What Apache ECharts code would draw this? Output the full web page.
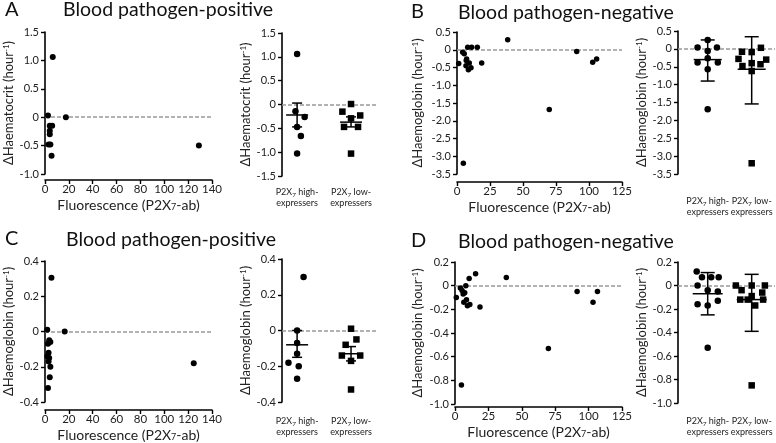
<!DOCTYPE html>
<html>
<head>
<meta charset="utf-8">
<script src="https://cdn.jsdelivr.net/npm/echarts@6/dist/echarts.min.js"></script>
<style>
  html, body { margin: 0; padding: 0; background: #fff; }
  #chart { width: 776px; height: 443px; }
</style>
</head>
<body>
<div id="chart"></div>
<script>
// ---- data ----
// A: haematocrit, blood pathogen-positive (scatter vs fluorescence)
var aFluor = [6.5, 2.5, 17.5, 4, 6, 4, 4, 3, 4.5, 5.5, 3, 4.5, 129];
var aHct = [1.06, 0.03, 0, -0.15, -0.15, -0.24, -0.3, -0.48, -0.48, -0.68, -1.03, -1.03, -0.5];
// A: dot plot (position inside the group, value)
var aHighPos = [1, 0.97, 1.14, 1, 1.07, 1];
var aHighVal = [1.06, -0.14, -0.26, -0.47, -0.66, -1.03];
var aLowPos = [2, 1.84, 2.17, 2, 1.87, 2.13, 2];
var aLowVal = [0.01, -0.15, -0.23, -0.29, -0.47, -0.47, -1.03];
var aHighStat = [-0.22, 0.03, -0.47]; // mean, upper, lower
var aLowStat = [-0.37, -0.26, -0.47];

// B: haemoglobin, blood pathogen-negative
var bFluor = [1.3, 4.3, 5.5, 7.3, 7.0, 6.8, 9.3, 8.6, 10.6, 8.1, 11.1, 15.4, 18.7, 38.4, 69.9, 4.8, 90.7, 102.8, 105.8];
var bHb = [-0.39, -0.07, -0.11, -0.26, -0.3, -0.45, -0.37, -0.56, -0.51, 0.07, 0.07, 0.07, -0.37, 0.28, -1.68, -3.2, -0.05, -0.35, -0.26];
var bHighPos = [0.77, 1.21, 1, 1, 1, 0.77, 1.23, 1, 1];
var bHighVal = [0.04, 0.04, 0.25, -0.06, -0.26, -0.38, -0.38, -0.57, -1.69];
var bLowPos = [1.70, 1.78, 2, 2.21, 1.79, 2, 2.2, 2.33, 2, 2];
var bLowVal = [-0.28, -0.08, -0.09, 0.03, -0.48, -0.40, -0.43, -0.30, -0.62, -3.2];
var bHighStat = [-0.30, 0.25, -0.90];
var bLowStat = [-0.57, 0.34, -1.54];

// C: haemoglobin, blood pathogen-positive
var cFluor = [5.4, 1.9, 16.5, 3.5, 4.5, 2.5, 3, 2, 3.5, 3, 4.5, 4, 2.5, 124.7];
var cHb = [0.305, 0.01, 0, -0.05, -0.06, -0.07, -0.12, -0.14, -0.15, -0.17, -0.2, -0.26, -0.32, -0.18];
var cHighPos = [1.12, 1, 1, 1, 0.84, 1.03, 1];
var cHighVal = [0.30, 0.0, -0.07, -0.13, -0.18, -0.2, -0.27];
var cLowPos = [2, 1.9, 2.1, 1.83, 2.17, 2, 2];
var cLowVal = [0.01, -0.08, -0.05, -0.14, -0.14, -0.17, -0.33];
var cHighStat = [-0.08, 0.0, -0.15];
var cLowStat = [-0.13, -0.09, -0.17];

// D: haemoglobin, blood pathogen-negative
var dFluor = [1.0, 4.0, 5.3, 6.1, 8.1, 7.3, 6.6, 8.6, 9.3, 11.1, 10.6, 15.4, 18.7, 38.4, 69.9, 4.8, 91.4, 106.6, 103.3];
var dHb = [-0.10, -0.02, -0.04, -0.07, 0.0, -0.06, -0.14, -0.12, -0.17, -0.16, 0.06, 0.10, -0.18, 0.07, -0.53, -0.84, -0.05, -0.05, -0.14];
var dHighPos = [0.75, 0.87, 1.08, 1.25, 0.77, 1, 1.23, 0.77, 1, 1.23, 1];
var dHighVal = [0.12, 0.07, 0.07, 0.07, 0.0, -0.04, -0.05, -0.16, -0.17, -0.13, -0.53];
var dLowPos = [1.64, 1.77, 2, 2.3, 1.74, 1.91, 2, 2.24, 2.26, 2.08, 2];
var dLowVal = [0.0, -0.04, 0.0, 0.0, -0.12, -0.12, -0.09, -0.06, -0.12, -0.17, -0.85];
var dHighStat = [-0.07, 0.11, -0.25];
var dLowStat = [-0.12, 0.095, -0.39];

// axis ticks
var fluorTicksAC = [0, 20, 40, 60, 80, 100, 120, 140];
var fluorTicksBD = [0, 25, 50, 75, 100, 125];
var hctTicksA = [-1.0, -0.5, 0, 0.5, 1.0, 1.5];
var hctTicksARight = [-1.5, -1.0, -0.5, 0, 0.5, 1.0, 1.5];
var hbTicksB = [-3.5, -3.0, -2.5, -2.0, -1.5, -1.0, -0.5, 0, 0.5];
var hbTicksC = [-0.4, -0.2, 0, 0.2, 0.4];
var hbTicksD = [-1.0, -0.8, -0.6, -0.4, -0.2, 0, 0.2];
var groupPos = [1, 2];
var groupNames = ['high-', 'low-'];

var titles = ['Blood pathogen-positive', 'Blood pathogen-negative'];
var hctName = '{a|\u0394Haematocrit (hour}{s|-1}{a|)}';
var hbName = '{a|\u0394Haemoglobin (hour}{s|-1}{a|)}';
var fluorName = '{a|Fluorescence (P2X}{s|7}{a|-ab)}';

var FONT = 'Lato, "Open Sans", sans-serif';

function zip(xs, ys) {
  return xs.map(function (x, i) { return [x, ys[i]]; });
}

function tickFmt(v) {
  return Math.abs(v) < 1e-9 ? '0' : v.toFixed(1);
}

// y axis, Prism-like style
function makeY(g, ticks, name, gap) {
  return {
    gridIndex: g, type: 'value',
    min: ticks[0], max: ticks[ticks.length - 1], interval: ticks[1] - ticks[0],
    axisLine: { show: true, onZero: false, lineStyle: { color: '#000', width: 1.6 } },
    axisTick: { show: true, length: 4, lineStyle: { color: '#000', width: 1.4 } },
    splitLine: { show: false },
    axisLabel: { formatter: tickFmt, color: '#222', fontSize: 11, margin: 6, fontFamily: FONT },
    name: name, nameLocation: 'middle', nameGap: gap,
    nameTextStyle: {
      rich: {
        a: { fontSize: 13, color: '#222', fontFamily: FONT },
        s: { fontSize: 8, color: '#222', fontFamily: FONT, verticalAlign: 'top', lineHeight: 14 }
      }
    }
  };
}

// x axis of the scatter panels
function makeFluorX(g, ticks, offset) {
  return {
    gridIndex: g, type: 'value',
    min: ticks[0], max: ticks[ticks.length - 1], interval: ticks[1] - ticks[0],
    offset: offset,
    axisLine: { show: true, onZero: false, lineStyle: { color: '#000', width: 1.6 } },
    axisTick: { show: true, length: 4, lineStyle: { color: '#000', width: 1.4 } },
    splitLine: { show: false },
    axisLabel: { color: '#222', fontSize: 11.5, margin: 3, fontFamily: FONT },
    name: fluorName, nameLocation: 'middle', nameGap: 18,
    nameTextStyle: {
      rich: {
        a: { fontSize: 14, color: '#222', fontFamily: FONT },
        s: { fontSize: 9, color: '#222', fontFamily: FONT, verticalAlign: 'bottom', lineHeight: 12 }
      }
    }
  };
}

// hidden x axis of the dot plots, only group labels shown
function makeGroupX(g, min, max, margin) {
  return {
    gridIndex: g, type: 'value', min: min, max: max,
    axisLine: { show: false, onZero: false },
    axisTick: { show: false },
    splitLine: { show: false },
    axisLabel: {
      customValues: groupPos, margin: margin, hideOverlap: false,
      formatter: function (v) {
        var i = groupPos.indexOf(v);
        return '{a|P2X}{s|7}{a| ' + groupNames[i] + '}\n{a|expressers}';
      },
      rich: {
        a: { fontSize: 9, color: '#222', fontFamily: FONT, lineHeight: 11 },
        s: { fontSize: 6.5, color: '#222', fontFamily: FONT, lineHeight: 8, verticalAlign: 'bottom' }
      }
    }
  };
}

// dashed line at y = 0, kept under the points
function zeroSeries(g) {
  return {
    type: 'scatter', xAxisIndex: g, yAxisIndex: g, data: [], z: 1,
    markLine: {
      silent: true, symbol: 'none', z: 1,
      label: { show: false },
      lineStyle: { color: '#999', type: [4, 2], width: 1.5 },
      data: [{ yAxis: 0 }]
    }
  };
}

function scatter(g, data, symbol, size) {
  return {
    type: 'scatter', xAxisIndex: g, yAxisIndex: g,
    data: data, symbol: symbol, symbolSize: size,
    itemStyle: { color: '#000', opacity: 1 }, z: 3
  };
}

// mean line + error bar
function errorBars(g, stats, half, cap) {
  var data = stats.map(function (st, i) { return [groupPos[i], st[0], st[1], st[2]]; });
  return {
    type: 'custom', xAxisIndex: g, yAxisIndex: g, z: 4,
    data: data, encode: { x: 0, y: [1, 2, 3] },
    renderItem: function (params, api) {
      var x = api.value(0);
      var m = api.coord([x, api.value(1)]);
      var u = api.coord([x, api.value(2)]);
      var l = api.coord([x, api.value(3)]);
      var st = { stroke: '#000', lineWidth: 1.5 };
      return {
        type: 'group', children: [
          { type: 'line', shape: { x1: u[0], y1: u[1], x2: l[0], y2: l[1] }, style: st },
          { type: 'line', shape: { x1: u[0] - cap, y1: u[1], x2: u[0] + cap, y2: u[1] }, style: st },
          { type: 'line', shape: { x1: l[0] - cap, y1: l[1], x2: l[0] + cap, y2: l[1] }, style: st },
          { type: 'line', shape: { x1: m[0] - half, y1: m[1], x2: m[0] + half, y2: m[1] }, style: st }
        ]
      };
    }
  };
}

function titleText(text, left, top, size) {
  return { text: text, left: left, top: top, padding: 0,
    textStyle: { fontSize: size, fontWeight: 'normal', color: '#111', fontFamily: FONT } };
}

var chart = echarts.init(document.getElementById('chart'));

var option = {
  backgroundColor: '#fff',
  animation: false,
  title: [
    titleText('A', 5, 0, 20), titleText(titles[0], 63, 0, 19.5),
    titleText('B', 411, 2, 20), titleText(titles[1], 458, 3, 19.5),
    titleText('C', 5, 229, 20), titleText(titles[0], 66, 230, 19.5),
    titleText('D', 411, 231, 20), titleText(titles[1], 458, 232, 19.5)
  ],
  grid: [
    { left: 45, top: 32, width: 167, height: 142 },   // A scatter
    { left: 282, top: 33, width: 96, height: 143 },   // A dots
    { left: 457, top: 32, width: 165, height: 142 },  // B scatter
    { left: 678, top: 31, width: 97, height: 143 },   // B dots
    { left: 45, top: 261, width: 167, height: 142 },  // C scatter
    { left: 282, top: 259, width: 96, height: 143 },  // C dots
    { left: 455, top: 262, width: 167, height: 142 }, // D scatter
    { left: 678, top: 262, width: 97, height: 141 }   // D dots
  ],
  xAxis: [
    makeFluorX(0, fluorTicksAC, 6),
    makeGroupX(1, 0.72, 2.5, 11),
    makeFluorX(2, fluorTicksBD, 8),
    makeGroupX(3, 0.325, 2.53, 22),
    makeFluorX(4, fluorTicksAC, 8),
    makeGroupX(5, 0.72, 2.5, 14),
    makeFluorX(6, fluorTicksBD, 3),
    makeGroupX(7, 0.325, 2.53, 13)
  ],
  yAxis: [
    makeY(0, hctTicksA, hctName, 26),
    makeY(1, hctTicksARight, hctName, 24),
    makeY(2, hbTicksB, hbName, 32),
    makeY(3, hbTicksB, hbName, 28),
    makeY(4, hbTicksC, hbName, 28),
    makeY(5, hbTicksC, hbName, 25),
    makeY(6, hbTicksD, hbName, 30),
    makeY(7, hbTicksD, hbName, 29)
  ],
  series: [
    zeroSeries(0),
    scatter(0, zip(aFluor, aHct), 'circle', 6),
    zeroSeries(1),
    scatter(1, zip(aHighPos, aHighVal), 'circle', 6.5),
    scatter(1, zip(aLowPos, aLowVal), 'rect', 6.5),
    errorBars(1, [aHighStat, aLowStat], 11, 5),

    zeroSeries(2),
    scatter(2, zip(bFluor, bHb), 'circle', 5.5),
    zeroSeries(3),
    scatter(3, zip(bHighPos, bHighVal), 'circle', 6.5),
    scatter(3, zip(bLowPos, bLowVal), 'rect', 6.5),
    errorBars(3, [bHighStat, bLowStat], 14, 7),

    zeroSeries(4),
    scatter(4, zip(cFluor, cHb), 'circle', 6),
    zeroSeries(5),
    scatter(5, zip(cHighPos, cHighVal), 'circle', 6.5),
    scatter(5, zip(cLowPos, cLowVal), 'rect', 6.5),
    errorBars(5, [cHighStat, cLowStat], 11, 5),

    zeroSeries(6),
    scatter(6, zip(dFluor, dHb), 'circle', 5.5),
    zeroSeries(7),
    scatter(7, zip(dHighPos, dHighVal), 'circle', 6.5),
    scatter(7, zip(dLowPos, dLowVal), 'rect', 6.5),
    errorBars(7, [dHighStat, dLowStat], 15, 7)
  ]
};

chart.setOption(option);
</script>
</body>
</html>
